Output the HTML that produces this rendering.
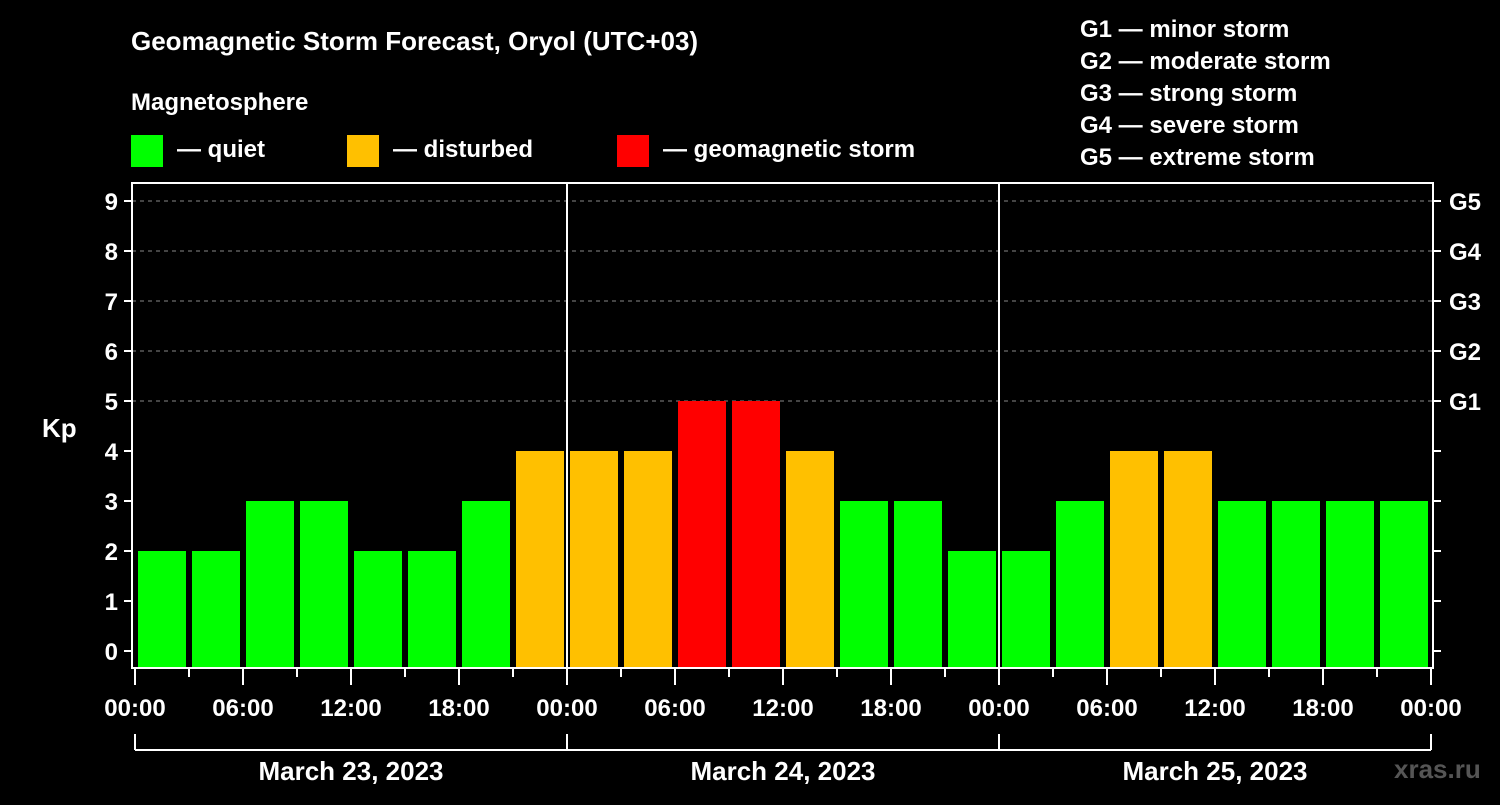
<!DOCTYPE html>
<html><head><meta charset="utf-8"><style>
body{margin:0;background:#000;}
svg text{font-family:"Liberation Sans",Arial,sans-serif;font-weight:bold;fill:#fff;}
</style></head><body>
<svg id="chart" width="1500" height="800" viewBox="0 0 1500 800" xmlns="http://www.w3.org/2000/svg">
<rect width="1500" height="800" fill="#000"/>
<text x="131" y="50" font-size="26">Geomagnetic Storm Forecast, Oryol (UTC+03)</text>
<text x="131" y="110" font-size="24">Magnetosphere</text>
<g><rect x="131" y="135" width="32" height="32" fill="#00ff00"/><text x="177" y="157" font-size="24">— quiet</text></g>
<g><rect x="347" y="135" width="32" height="32" fill="#ffc000"/><text x="393" y="157" font-size="24">— disturbed</text></g>
<g><rect x="617" y="135" width="32" height="32" fill="#ff0000"/><text x="663" y="157" font-size="24">— geomagnetic storm</text></g>
<g font-size="24">
<text x="1080" y="37">G1 — minor storm</text>
<text x="1080" y="69">G2 — moderate storm</text>
<text x="1080" y="101">G3 — strong storm</text>
<text x="1080" y="133">G4 — severe storm</text>
<text x="1080" y="165">G5 — extreme storm</text>
</g>
<text x="42" y="437" font-size="26">Kp</text>
<g id="grid"></g><g id="bars"></g><g id="axes"></g>
<text x="1394" y="778" font-size="26" fill="#555" style="fill:#555">xras.ru</text>
</svg>
<script>
const kpValues=[2,2,3,3,2,2,3,4, 4,4,5,5,4,3,3,2, 2,3,4,4,3,3,3,3];
const dayLabels=["March 23, 2023","March 24, 2023","March 25, 2023"];
const hourLabels=["00:00","06:00","12:00","18:00"];
const yTicks=[0,1,2,3,4,5,6,7,8,9];
const gLabels=["G1","G2","G3","G4","G5"];
const NS="http://www.w3.org/2000/svg";
const L=132,R=1433,T=183,B=668,X0=135,slot=54;
const y=v=>651-v*50;
const x=i=>X0+i*slot;
function mk(tag,attrs,parent,txt){const e=document.createElementNS(NS,tag);for(const k in attrs)e.setAttribute(k,attrs[k]);if(txt!==undefined)e.textContent=txt;parent.appendChild(e);return e;}
const grid=document.getElementById('grid'),bars=document.getElementById('bars'),axes=document.getElementById('axes');
[5,6,7,8,9].forEach(v=>{const l=mk('line',{x1:L,x2:R,y1:y(v),y2:y(v),stroke:'#888','stroke-dasharray':'4,4','stroke-width':1},grid);

});
kpValues.forEach((v,i)=>{const c=v>=5?'#ff0000':(v>=4?'#ffc000':'#00ff00');
const r=mk('rect',{x:x(i)+3,y:y(v),width:48,height:B-y(v),fill:c},bars);

});
const frame=mk('rect',{x:L,y:T,width:R-L,height:B-T,fill:'none',stroke:'#fff','stroke-width':2},axes);


[1,2].forEach(d=>{const l=mk('line',{x1:X0+d*432,x2:X0+d*432,y1:T,y2:B,stroke:'#fff','stroke-width':2},axes);

});
yTicks.forEach(v=>{mk('line',{x1:L-8,x2:L,y1:y(v),y2:y(v),stroke:'#fff','stroke-width':2},axes);
const t=mk('text',{x:L-14,y:y(v)+9,'font-size':24,'text-anchor':'end'},axes,String(v));


mk('line',{x1:R,x2:R+8,y1:y(v),y2:y(v),stroke:'#fff','stroke-width':2},axes);});
gLabels.forEach((g,i)=>{const t=mk('text',{x:1449,y:y(5+i)+9,'font-size':24},axes,g);

});
for(let i=0;i<=24;i++){const major=i%2===0;mk('line',{x1:x(i),x2:x(i),y1:B,y2:B+(major?17:9),stroke:'#fff','stroke-width':2},axes);
if(major){const t=mk('text',{x:x(i),y:716,'font-size':24,'text-anchor':'middle'},axes,hourLabels[(i/2)%4]);

}}
mk('line',{x1:X0,x2:X0+3*432,y1:750,y2:750,stroke:'#fff','stroke-width':2},axes);
for(let d=0;d<=3;d++)mk('line',{x1:X0+d*432,x2:X0+d*432,y1:734,y2:750,stroke:'#fff','stroke-width':2},axes);
dayLabels.forEach((s,d)=>{const t=mk('text',{x:X0+d*432+216,y:780,'font-size':26,'text-anchor':'middle'},axes,s);

});
</script>
</body></html>
